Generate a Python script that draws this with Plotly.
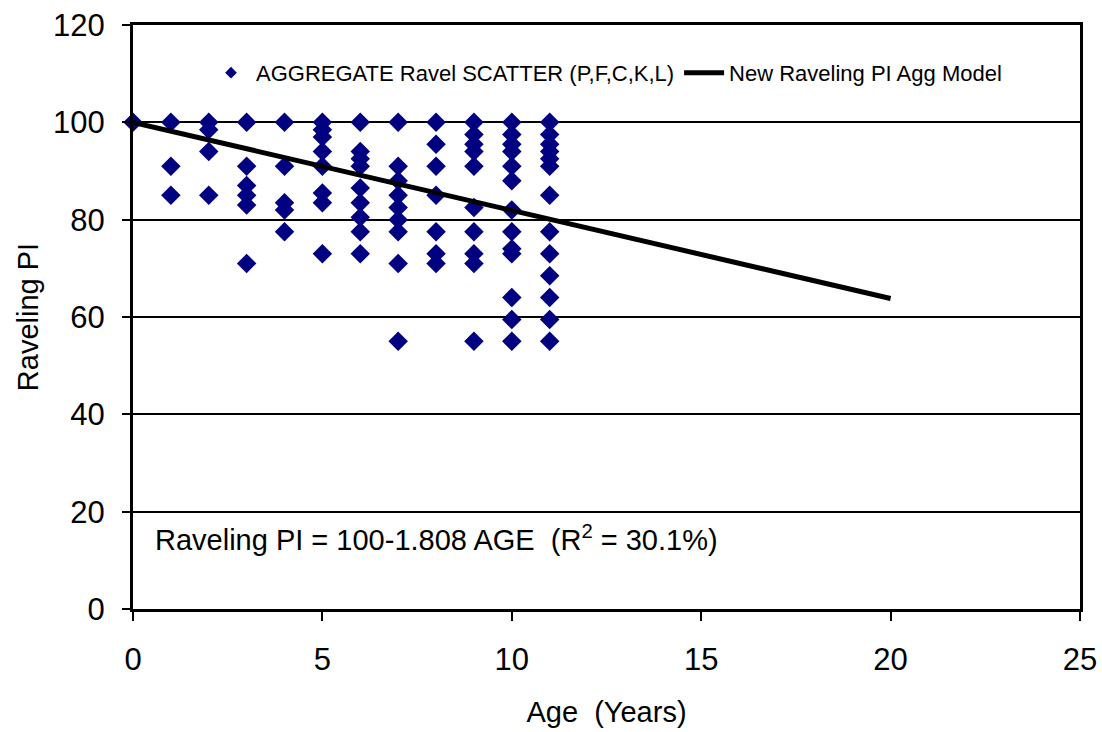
import plotly.graph_objects as go

# Observed raveling PI by pavement age (years)
obs_age_groups = {
    0: [100],
    1: [100, 91, 85],
    2: [100, 98.5, 94, 85],
    3: [100, 91, 87, 85, 83, 71],
    4: [100, 91, 83.5, 82, 77.5],
    5: [100, 98.5, 97, 94, 91, 85.5, 83.5, 73],
    6: [100, 94, 92.5, 91, 86.5, 83.5, 80.5, 77.5, 73],
    7: [100, 91, 88, 85, 82.5, 80, 77.5, 71, 55],
    8: [100, 95.5, 91, 85, 77.5, 73, 71],
    9: [100, 97.5, 95.5, 94, 91, 82.5, 77.5, 73, 71, 55],
    10: [100, 97.5, 95.5, 94, 91, 88, 82, 77.5, 74, 73, 64, 59.5, 55],
    11: [100, 97.5, 95.5, 94, 92.5, 91, 85, 77.5, 73, 68.5, 64, 59.5, 55],
}

# Model curve: Raveling PI = 100 - 1.808 * AGE
model_age = [0, 1, 2, 3, 4, 5, 6, 7, 8, 9, 10, 11, 12, 13, 14, 15, 16, 17, 18, 19, 20]
model_pi = [100.0, 98.2, 96.4, 94.6, 92.8, 91.0, 89.2, 87.3, 85.5, 83.7, 81.9,
            80.1, 78.3, 76.5, 74.7, 72.9, 71.1, 69.3, 67.5, 65.6, 63.8]

x_ticks = [0, 5, 10, 15, 20, 25]
y_ticks = [0, 20, 40, 60, 80, 100, 120]

scatter_name = "AGGREGATE Ravel SCATTER (P,F,C,K,L)"
model_name = "New Raveling PI Agg Model"

scatter_x = [a for a, vals in obs_age_groups.items() for _ in vals]
scatter_y = [v for vals in obs_age_groups.values() for v in vals]

FONT = "Liberation Sans, Arial, sans-serif"
NAVY = "#000080"

fig = go.Figure()
fig.add_trace(go.Scatter(
    x=scatter_x, y=scatter_y, mode="markers", name=scatter_name,
    marker=dict(symbol="diamond", size=15, color=NAVY),
    cliponaxis=False, showlegend=False,
))
fig.add_trace(go.Scatter(
    x=model_age, y=model_pi, mode="lines", name=model_name,
    line=dict(color="black", width=5), showlegend=False,
))
# legend entries (smaller marker than the plotted points)
fig.add_trace(go.Scatter(
    x=[None], y=[None], mode="markers", name=scatter_name,
    marker=dict(symbol="diamond", size=9, color=NAVY),
))
fig.add_trace(go.Scatter(
    x=[None], y=[None], mode="lines", name=model_name,
    line=dict(color="black", width=5),
))

fig.update_layout(
    width=1102, height=732,
    margin=dict(l=133, r=22, t=25, b=123),
    paper_bgcolor="white", plot_bgcolor="white",
    font=dict(family=FONT, color="black"),
    showlegend=True,
    legend=dict(
        orientation="h", x=0.5, xanchor="center", y=0.918, yanchor="middle",
        font=dict(size=22, family=FONT), bgcolor="rgba(0,0,0,0)",
        itemwidth=40, tracegroupgap=0,
    ),
    xaxis=dict(
        range=[0, 25], tickvals=x_ticks, showgrid=False, zeroline=False,
        showline=True, linecolor="black", linewidth=3, mirror=True,
        ticks="outside", ticklen=9, tickwidth=2, tickcolor="black",
        tickfont=dict(size=31), ticklabelstandoff=12, automargin=False,
        title=dict(text="Age  (Years)", font=dict(size=29), standoff=26),
    ),
    yaxis=dict(
        range=[0, 120], tickvals=y_ticks, showgrid=True, gridcolor="black",
        gridwidth=2, zeroline=False,
        showline=True, linecolor="black", linewidth=3, mirror=True,
        ticks="outside", ticklen=8, tickwidth=2, tickcolor="black",
        tickfont=dict(size=31), ticklabelstandoff=11, automargin=False,
        title=dict(text="Raveling PI", font=dict(size=29), standoff=6),
    ),
    annotations=[dict(
        x=0.53, y=14.5, xref="x", yref="y", xanchor="left", yanchor="middle",
        text="Raveling PI = 100-1.808 AGE  (R<sup>2</sup> = 30.1%)",
        showarrow=False, font=dict(size=29, family=FONT),
    )],
)

fig.write_html("out.html")
